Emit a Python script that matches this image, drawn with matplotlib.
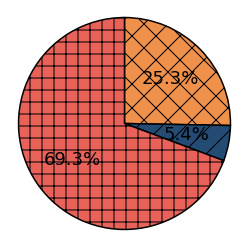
import matplotlib
matplotlib.use("Agg")
import matplotlib.pyplot as plt

# slice values (percent), in drawing order (clockwise from 12 o'clock)
shares = [25.3, 5.4, 69.3]
colors = ["#f0914b", "#234b73", "#e8625a"]
hatches = ["x", "/", "+"]

DPI = 72
fig = plt.figure(figsize=(249 / DPI, 247 / DPI), dpi=DPI)
ax = fig.add_axes([17 / 249, 17 / 247, 215 / 249, 213 / 247])

wedges, texts, autotexts = ax.pie(
    shares,
    colors=colors,
    startangle=90,
    counterclock=False,
    autopct="%.1f%%",
    pctdistance=0.6,
    wedgeprops=dict(edgecolor="black", linewidth=1.5),
    textprops=dict(fontsize=18, color="black"),
)
for w, h in zip(wedges, hatches):
    w.set_hatch(h)
ax.set_xlim(-1.005, 1.005)
ax.set_ylim(-1.005, 1.005)
ax.set_aspect("equal")

fig.savefig("out.png", dpi=DPI)
